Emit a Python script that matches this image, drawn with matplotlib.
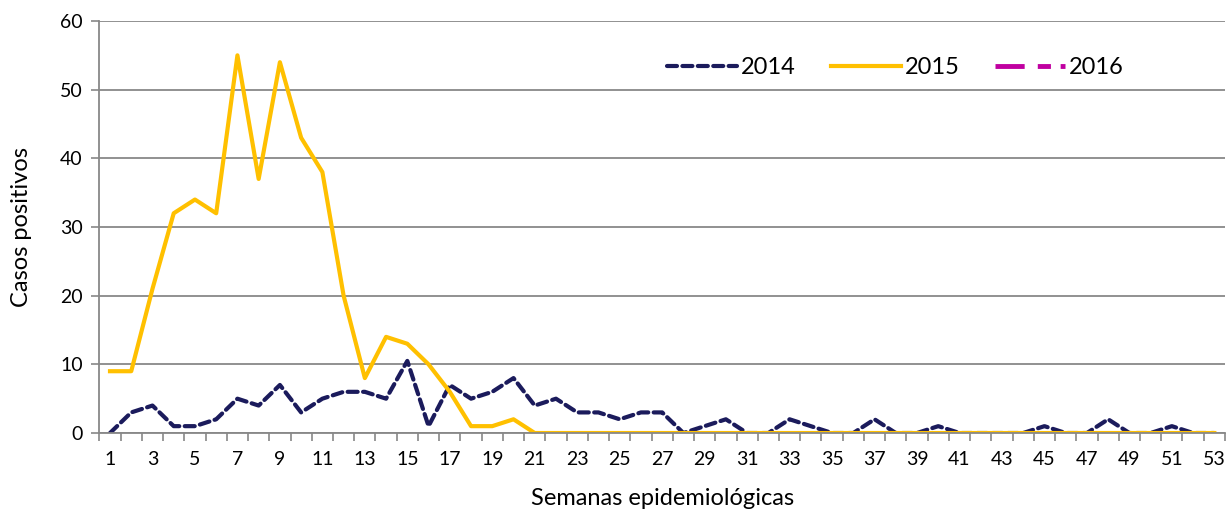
import numpy as np
import matplotlib.pyplot as plt

semanas = list(range(1, 54))

casos_2014 = [0, 3, 4, 1, 1, 2, 5, 4, 7, 3,
              5, 6, 6, 5, 10.5, 1, 7, 5, 6, 8,
              4, 5, 3, 3, 2, 3, 3, 0, 1, 2,
              0, 0, 2, 1, 0, 0, 2, 0, 0, 1,
              0, 0, 0, 0, 1, 0, 0, 2, 0, 0,
              1, 0, 0]
casos_2015 = [9, 9, 21, 32, 34, 32, 55, 37, 54, 43,
              38, 20, 8, 14, 13, 10, 6, 1, 1, 2,
              0, 0, 0, 0, 0, 0, 0, 0, 0, 0,
              0, 0, 0, 0, 0, 0, 0, 0, 0, 0,
              0, 0, 0, 0, 0, 0, 0, 0, 0, 0,
              0, 0, 0]
casos_2016 = []

plt.rcParams['font.family'] = ['Lato', 'DejaVu Sans']

fig = plt.figure(figsize=(12.3, 5.11), dpi=100)
ax = fig.add_axes([0.0808, 0.1526, 0.9151, 0.8063])

ax.plot(semanas, casos_2014, color="#1b1b5c", lw=3, linestyle=(0, (2.4, 1.3)),
        label="2014", solid_capstyle="round", dash_capstyle="round")
ax.plot(semanas, casos_2015, color="#ffc000", lw=3, label="2015")
ax.plot(semanas[:len(casos_2016)], casos_2016, color="#c000a0", lw=3.5,
        linestyle=(0, (6, 2.7, 2.7, 2, 1, 2)), label="2016")

ax.set_xlim(0.5, 53.5)
ax.set_ylim(0, 60)
ax.set_yticks(range(0, 61, 10))
ax.set_xticks(range(1, 54, 2))
ax.set_xticks(np.arange(0.5, 54, 1), minor=True)
ax.tick_params(axis="x", which="major", length=0, pad=13, labelsize=14)
ax.tick_params(axis="x", which="minor", length=6, color="#888888", width=1.2)
ax.tick_params(axis="y", length=6, color="#888888", width=1.2, labelsize=14, pad=6)

ax.grid(axis="y", color="#888888", lw=1.3)
ax.set_axisbelow(True)
for s in ["top", "right"]:
    ax.spines[s].set_visible(False)
ax.spines["left"].set_color("#888888")
ax.spines["left"].set_linewidth(1.3)
ax.spines["bottom"].set_color("#888888")
ax.spines["bottom"].set_linewidth(1.3)

ax.set_xlabel("Semanas epidemiológicas", fontsize=17, labelpad=14)
ax.set_ylabel("Casos positivos", fontsize=17, labelpad=20)

ax.legend(loc="center left", bbox_to_anchor=(667 / 1230, 1 - 68 / 511),
          bbox_transform=fig.transFigure, ncol=3, frameon=False,
          fontsize=17, handlelength=2.97, columnspacing=1.5, handletextpad=0.15,
          borderpad=0, borderaxespad=0)

fig.savefig("out.png", dpi=100)
